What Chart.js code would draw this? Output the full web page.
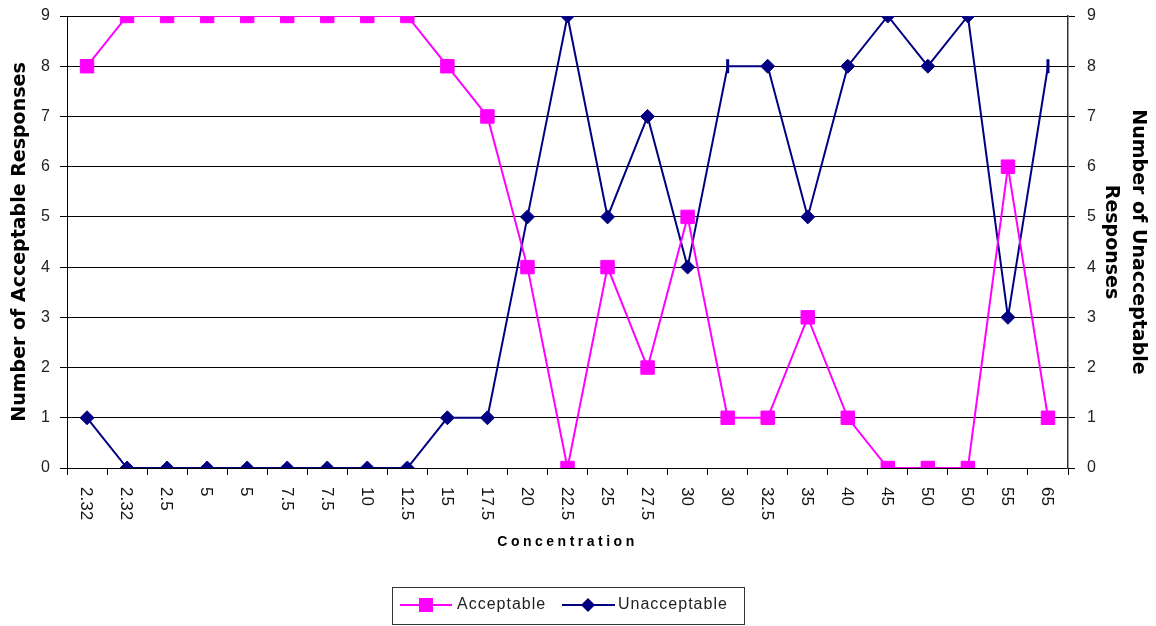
<!DOCTYPE html>
<html>
<head>
<meta charset="utf-8">
<script src="https://cdn.jsdelivr.net/npm/chart.js@4.4.1/dist/chart.umd.min.js"></script>
<style>
  html, body { margin: 0; padding: 0; background: #fff; }
  #wrap { width: 1156px; height: 626px; }
</style>
</head>
<body>
<div id="wrap"><canvas id="responseChart" width="1156" height="626"></canvas></div>
<script>
const concentrations = ["2.32","2.32","2.5","5","5","7.5","7.5","10","12.5","15","17.5","20","22.5","25","27.5","30","30","32.5","35","40","45","50","50","55","65"];
const acceptable   = [8,9,9,9,9,9,9,9,9,8,7,4,0,4,2,5,1,1,3,1,0,0,0,6,1];
const unacceptable = [1,0,0,0,0,0,0,0,0,1,1,5,9,5,7,4,8,8,5,8,9,8,9,3,8];
const yMin = 0, yMax = 9;
// these two markers come out as thin bars in the original
const thinMarkers = [16, 24];

const MAGENTA = "#ff00ff";
const NAVY = "#000080";

// x labels read top-to-bottom, title is letter-spaced, legend sits in a box
const extras = {
  id: "extras",
  afterDraw(chart) {
    const ctx = chart.ctx;
    const xs = chart.scales.x;
    ctx.save();
    ctx.fillStyle = "#111";
    ctx.font = '17px "Liberation Sans", Arial, sans-serif';
    ctx.textAlign = "left";
    ctx.textBaseline = "middle";
    concentrations.forEach((lab, i) => {
      ctx.save();
      ctx.translate(xs.getPixelForValue(i) - 1, xs.top + 19);
      ctx.rotate(Math.PI / 2);
      ctx.fillText(lab, 0, 0);
      ctx.restore();
    });

    ctx.font = 'bold 14px "Liberation Sans", Arial, sans-serif';
    ctx.letterSpacing = "3.5px";
    ctx.textAlign = "center";
    ctx.fillStyle = "#000";
    const mid = (chart.chartArea.left + chart.chartArea.right) / 2;
    ctx.fillText("Concentration", mid, 542);
    ctx.letterSpacing = "0px";

    // legend
    ctx.strokeStyle = "#333";
    ctx.lineWidth = 1;
    ctx.strokeRect(392.5, 587.5, 352, 37);
    const ly = 605;
    ctx.lineWidth = 2;
    ctx.strokeStyle = MAGENTA;
    ctx.beginPath(); ctx.moveTo(400, ly); ctx.lineTo(452, ly); ctx.stroke();
    ctx.fillStyle = MAGENTA;
    ctx.fillRect(419, ly - 7, 14, 14);
    ctx.strokeStyle = NAVY;
    ctx.beginPath(); ctx.moveTo(562, ly); ctx.lineTo(615, ly); ctx.stroke();
    ctx.fillStyle = NAVY;
    ctx.beginPath();
    ctx.moveTo(588, ly - 7); ctx.lineTo(595, ly); ctx.lineTo(588, ly + 7); ctx.lineTo(581, ly);
    ctx.closePath(); ctx.fill();

    ctx.fillStyle = "#222";
    ctx.font = '16px "Liberation Sans", Arial, sans-serif';
    ctx.letterSpacing = "1px";
    ctx.textAlign = "left";
    ctx.fillText("Acceptable", 457, ly);
    ctx.fillText("Unacceptable", 618, ly);
    ctx.restore();
  }
};

// fixed widths and no extra label overhang, so the plot box lands where the original's does
const fixWidth = w => s => { s.width = w; s.paddingTop = 0; s.paddingBottom = 0; };

new Chart(document.getElementById("responseChart"), {
  type: "line",
  data: {
    labels: concentrations,
    datasets: [
      {
        label: "Acceptable",
        data: acceptable,
        yAxisID: "y",
        borderColor: MAGENTA,
        backgroundColor: MAGENTA,
        borderWidth: 2,
        pointStyle: "rect",
        pointRadius: 9.5,
        pointBorderWidth: 1,
        tension: 0
      },
      {
        label: "Unacceptable",
        data: unacceptable,
        yAxisID: "y1",
        borderColor: NAVY,
        backgroundColor: NAVY,
        borderWidth: 2,
        pointStyle: c => thinMarkers.includes(c.dataIndex) ? "line" : "rectRot",
        pointRotation: c => thinMarkers.includes(c.dataIndex) ? 90 : 0,
        pointRadius: 7,
        pointBorderWidth: c => thinMarkers.includes(c.dataIndex) ? 3 : 1,
        tension: 0
      }
    ]
  },
  options: {
    responsive: false,
    animation: false,
    layout: { padding: { top: 16, left: 0, right: 0, bottom: 0 } },
    plugins: {
      legend: { display: false },
      tooltip: { enabled: false }
    },
    scales: {
      x: {
        offset: true,
        grid: { display: true, drawOnChartArea: false, offset: true, color: "#000", tickLength: 7 },
        border: { display: true, color: "#000", width: 1 },
        ticks: { display: false },
        afterFit: s => { s.height = 158; }
      },
      y: {
        position: "left",
        min: yMin, max: yMax,
        ticks: { stepSize: 1, padding: 10, color: "#222", font: { family: '"Liberation Sans", Arial, sans-serif', size: 16 } },
        grid: { color: "#000", lineWidth: 1, tickLength: 7 },
        border: { display: true, color: "#000", width: 1 },
        title: {
          display: true,
          text: "Number of Acceptable Responses",
          color: "#000",
          font: { family: '"DejaVu Sans", Verdana, sans-serif', size: 19, weight: "bold" },
          padding: { top: 9, bottom: 0 }
        },
        afterFit: fixWidth(67)
      },
      y1: {
        position: "right",
        min: yMin, max: yMax,
        ticks: { stepSize: 1, padding: 12, color: "#222", font: { family: '"Liberation Sans", Arial, sans-serif', size: 16 } },
        grid: { drawOnChartArea: false, color: "#000", tickLength: 7 },
        border: { display: true, color: "#333", width: 1.5 },
        title: {
          display: true,
          text: ["Number of Unacceptable", "Responses"],
          color: "#000",
          font: { family: '"DejaVu Sans", Verdana, sans-serif', size: 19, weight: "bold", lineHeight: 1.4 },
          padding: { top: 5, bottom: 0 }
        },
        afterFit: fixWidth(88)
      }
    }
  },
  plugins: [extras]
});
</script>
</body>
</html>
